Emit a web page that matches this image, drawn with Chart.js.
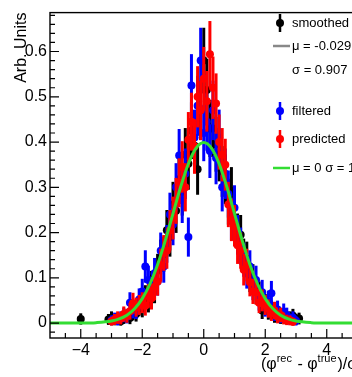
<!DOCTYPE html>
<html>
<head>
<meta charset="utf-8">
<script src="https://cdn.jsdelivr.net/npm/chart.js@4.4.1/dist/chart.umd.min.js"></script>
<style>
  html, body { margin: 0; padding: 0; background: #fff; overflow: hidden; }
  #wrap { width: 352px; height: 377px; overflow: hidden; }
  canvas { display: block; }
</style>
</head>
<body>
<div id="wrap"><canvas id="chart" width="366" height="377"></canvas></div>
<script>
  // bin centres of the residual histogram
  const binCenters = [
    -3.1, -3.0, -2.9, -2.8, -2.7, -2.6, -2.5, -2.4, -2.3, -2.2,
    -2.1, -2.0, -1.9, -1.8, -1.7, -1.6, -1.5, -1.4, -1.3, -1.2,
    -1.1, -1.0, -0.9, -0.8, -0.7, -0.6, -0.5, -0.4, -0.3, -0.2,
    -0.1, 0.0,
    0.1, 0.2, 0.3, 0.4, 0.5, 0.6, 0.7, 0.8, 0.9, 1.0,
    1.1, 1.2, 1.3, 1.4, 1.5, 1.6, 1.7, 1.8, 1.9, 2.0,
    2.1, 2.2, 2.3, 2.4, 2.5, 2.6, 2.7, 2.8, 2.9, 3.0, 3.1,
  ];

  const smoothed = [
    0.008, 0.012, 0.006, 0.010, 0.004, 0.012, 0.015, 0.011, 0.024, 0.020,
    0.038, 0.033, 0.058, 0.047, 0.085, 0.072, 0.118, 0.146, 0.152, 0.205,
    0.190, 0.262, 0.248, 0.318, 0.290, 0.372, 0.352, 0.425, 0.392, 0.340,
    0.470, 0.580,
    0.515, 0.430, 0.430, 0.395, 0.372, 0.335, 0.318, 0.268, 0.292, 0.226,
    0.198, 0.195, 0.148, 0.142, 0.101, 0.098, 0.070, 0.065, 0.028, 0.042,
    0.026, 0.030, 0.016, 0.020, 0.012, 0.014, 0.009, 0.012, 0.016, 0.008, 0.010,
  ];
  const smoothedTailX = [-4.0];
  const smoothedTailY = [0.009];

  const filtered = [
    null, 0.006, 0.010, 0.005, 0.012, 0.018, 0.014, 0.045, 0.030, 0.028,
    0.052, 0.070, 0.125, 0.095, 0.068, 0.110, 0.092, 0.160, 0.125, 0.175,
    0.240, 0.218, 0.300, 0.370, 0.272, 0.330, 0.190, 0.525, 0.410, 0.480,
    0.580, 0.420,
    0.445, 0.380, 0.470, 0.365, 0.410, 0.300, 0.330, 0.285, 0.230, 0.255,
    0.195, 0.170, 0.140, 0.110, 0.125, 0.080, 0.095, 0.052, 0.068, 0.035,
    0.048, 0.066, 0.022, 0.030, 0.015, 0.025, 0.018, 0.008, 0.012, 0.005, null,
  ];

  const predicted = [
    null, 0.004, 0.008, 0.012, 0.010, 0.020, 0.016, 0.026, 0.044, 0.035,
    0.040, 0.045, 0.038, 0.060, 0.055, 0.080, 0.092, 0.128, 0.155, 0.160,
    0.205, 0.232, 0.270, 0.310, 0.345, 0.300, 0.405, 0.445, 0.390, 0.500,
    0.470, 0.540,
    0.490, 0.594, 0.520, 0.485, 0.400, 0.372, 0.350, 0.262, 0.228, 0.215,
    0.172, 0.160, 0.118, 0.128, 0.090, 0.070, 0.068, 0.045, 0.050, 0.040,
    0.032, 0.022, 0.028, 0.014, 0.018, 0.010, 0.007, 0.006, 0.003, null, null,
  ];

  // reference curve mu = 0, sigma = 1
  const fitX = [-5, -4.5, -4, -3.5, -3, -2.75, -2.5, -2.25, -2, -1.75, -1.5, -1.25, -1, -0.75, -0.5, -0.25,
    0, 0.25, 0.5, 0.75, 1, 1.25, 1.5, 1.75, 2, 2.25, 2.5, 2.75, 3, 3.5, 4, 4.5, 5];
  const fitY = [0, 0, 0.0001, 0.0009, 0.0044, 0.0091, 0.0175, 0.0317, 0.0540, 0.0863, 0.1295, 0.1826, 0.2420, 0.3011, 0.3521, 0.3867,
    0.3989, 0.3867, 0.3521, 0.3011, 0.2420, 0.1826, 0.1295, 0.0863, 0.0540, 0.0317, 0.0175, 0.0091, 0.0044, 0.0009, 0.0001, 0, 0];

  const xTickValues = [-4, -2, 0, 2, 4];
  const xTickLabels = ["\u22124", "\u22122", "0", "2", "4"];
  const yTickValues = [0, 0.1, 0.2, 0.3, 0.4, 0.5, 0.6];
  const yTickLabels = ["0", "0.1", "0.2", "0.3", "0.4", "0.5", "0.6"];

  const legendLabels = ["smoothed", "\u03bc = -0.029", "\u03c3 = 0.907", "filtered", "predicted", "\u03bc = 0 \u03c3 = 1"];

  const FONT = '"Liberation Sans", Arial, Helvetica, sans-serif';
  const GREEN = "#33dd33";

  function errorOf(v) {
    return 0.09 * Math.sqrt(v) + 0.004;
  }

  function points(ys) {
    const out = [];
    binCenters.forEach((x, i) => {
      if (ys[i] !== null) out.push({ x, y: ys[i] });
    });
    return out;
  }

  const errorBars = {
    id: "errorBars",
    beforeDatasetDraw(chart, args) {
      const ds = chart.data.datasets[args.index];
      if (!ds.errorBars) return;
      const { ctx } = chart;
      const xs = chart.scales.x, ys = chart.scales.y;
      ctx.save();
      ctx.strokeStyle = ds.backgroundColor;
      ctx.lineWidth = 3;
      ds.data.forEach((p) => {
        const e = errorOf(p.y);
        const px = xs.getPixelForValue(p.x);
        ctx.beginPath();
        ctx.moveTo(px, ys.getPixelForValue(p.y - e));
        ctx.lineTo(px, ys.getPixelForValue(p.y + e));
        ctx.stroke();
      });
      ctx.restore();
    },
  };

  const frame = {
    id: "frame",
    afterDraw(chart) {
      const { ctx, chartArea: a } = chart;
      const xs = chart.scales.x, ys = chart.scales.y;
      ctx.save();
      ctx.strokeStyle = "#000";
      ctx.lineWidth = 1.4;
      ctx.strokeRect(a.left, a.top, a.right - a.left, a.bottom - a.top);

      ctx.lineWidth = 1.2;
      ctx.beginPath();
      for (let k = -1; k <= 34; k++) {
        const py = ys.getPixelForValue(k * 0.02);
        const len = k % 5 === 0 ? 9 : 5;
        ctx.moveTo(a.left, py);
        ctx.lineTo(a.left + len, py);
      }
      for (let k = -9; k <= 9; k++) {
        const px = xs.getPixelForValue(k * 0.5);
        const len = k % 4 === 0 ? 9 : 5;
        ctx.moveTo(px, a.bottom);
        ctx.lineTo(px, a.bottom - len);
      }
      ctx.stroke();

      // axis titles
      ctx.fillStyle = "#000";
      ctx.font = "16px " + FONT;
      ctx.save();
      ctx.translate(22, a.top);
      ctx.rotate(-Math.PI / 2);
      ctx.textAlign = "right";
      ctx.textBaseline = "middle";
      ctx.fillText("Arb. Units", 0, 0);
      ctx.restore();

      const parts = [
        ["(", false], ["\u03c6", false], ["rec", true], [" - ", false],
        ["\u03c6", false], ["true", true], [")/\u03c3", false],
      ];
      let tx = 261;
      ctx.textAlign = "left";
      ctx.textBaseline = "alphabetic";
      parts.forEach(([t, sup]) => {
        ctx.font = (sup ? "11px " : "16px ") + FONT;
        ctx.fillText(t, tx, sup ? 362 : 369);
        tx += ctx.measureText(t).width + (sup ? 1 : 0);
      });

      // legend
      const rows = [23, 46, 70, 111, 139, 168];
      const markX = 280, textX = 292;
      ctx.font = "13px " + FONT;
      ctx.textBaseline = "middle";
      const marker = (y, color) => {
        ctx.strokeStyle = color;
        ctx.fillStyle = color;
        ctx.lineWidth = 2.5;
        ctx.beginPath();
        ctx.moveTo(markX, y - 9);
        ctx.lineTo(markX, y + 9);
        ctx.stroke();
        ctx.beginPath();
        ctx.arc(markX, y, 4, 0, Math.PI * 2);
        ctx.fill();
      };
      const line = (y, color) => {
        ctx.strokeStyle = color;
        ctx.lineWidth = 2.5;
        ctx.beginPath();
        ctx.moveTo(273, y);
        ctx.lineTo(290, y);
        ctx.stroke();
      };
      marker(rows[0], "#000");
      line(rows[1], "#888888");
      marker(rows[3], "#0000ff");
      marker(rows[4], "#ff0000");
      line(rows[5], GREEN);
      ctx.fillStyle = "#000";
      legendLabels.forEach((t, i) => ctx.fillText(t, textX, rows[i]));
      ctx.restore();
    },
  };

  const scatterStyle = (color) => ({
    backgroundColor: color,
    borderColor: color,
    pointRadius: 4,
    pointBorderWidth: 0,
    pointHoverRadius: 4,
    errorBars: true,
  });

  new Chart(document.getElementById("chart"), {
    type: "scatter",
    data: {
      datasets: [
        {
          type: "line",
          label: "fit",
          data: fitX.map((x, i) => ({ x, y: fitY[i] })),
          borderColor: GREEN,
          borderWidth: 3,
          pointRadius: 0,
          cubicInterpolationMode: "monotone",
          fill: false,
          order: 0,
        },
        Object.assign({ label: "predicted", data: points(predicted), order: 1 }, scatterStyle("#ff0000")),
        Object.assign({ label: "filtered", data: points(filtered), order: 2 }, scatterStyle("#0000ff")),
        Object.assign({
          label: "smoothed",
          data: points(smoothed).concat(smoothedTailX.map((x, i) => ({ x, y: smoothedTailY[i] }))),
          order: 3,
        }, scatterStyle("#000000")),
      ],
    },
    options: {
      responsive: false,
      animation: false,
      devicePixelRatio: 1,
      layout: { padding: { left: 0, right: 8.5, top: 10, bottom: 0 } },
      plugins: { legend: { display: false }, tooltip: { enabled: false } },
      scales: {
        x: {
          type: "linear",
          min: -5,
          max: 5,
          grid: { display: false, drawTicks: false },
          border: { display: false },
          afterBuildTicks: (s) => { s.ticks = xTickValues.map((v) => ({ value: v })); },
          afterFit: (s) => { s.height = 39; },
          ticks: {
            padding: 3,
            color: "#000",
            maxRotation: 0,
            autoSkip: false,
            font: { family: FONT, size: 16 },
            callback: (v, i) => xTickLabels[i],
          },
        },
        y: {
          type: "linear",
          min: -0.033,
          max: 0.686,
          grid: { display: false, drawTicks: false },
          border: { display: false },
          afterBuildTicks: (s) => { s.ticks = yTickValues.map((v) => ({ value: v })); },
          afterFit: (s) => { s.width = 50; },
          ticks: {
            padding: 3,
            color: "#000",
            autoSkip: false,
            font: { family: FONT, size: 16 },
            callback: (v, i) => yTickLabels[i],
          },
        },
      },
    },
    plugins: [errorBars, frame],
  });
</script>
</body>
</html>
